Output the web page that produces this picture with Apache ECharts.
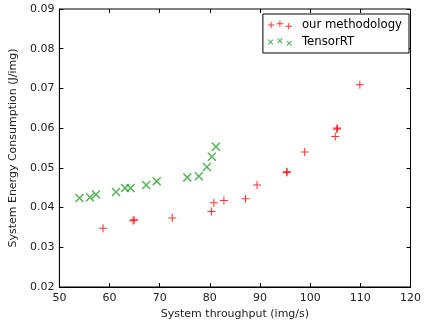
<!DOCTYPE html>
<html>
<head>
<meta charset="utf-8">
<script src="https://cdn.jsdelivr.net/npm/echarts@6/dist/echarts.min.js"></script>
<style>
  html, body { margin: 0; padding: 0; background: #fff; }
  #chart { width: 424px; height: 325px; }
</style>
</head>
<body>
<div id="chart"></div>
<script>
// data
const oursX = [58.7, 64.7, 64.9, 72.5, 80.3, 80.8, 82.8, 87.1, 89.4, 95.3, 95.4, 98.9, 105.0, 105.3, 105.4, 109.9];
const oursY = [0.0348, 0.0367, 0.0369, 0.0374, 0.0390, 0.0412, 0.0418, 0.0422, 0.0457, 0.0488, 0.0490, 0.0540, 0.0579, 0.0597, 0.0600, 0.0709];
const trtX = [54.0, 56.1, 57.3, 61.3, 63.1, 64.2, 67.3, 69.4, 75.5, 77.8, 79.4, 80.4, 81.2];
const trtY = [0.0424, 0.0426, 0.0433, 0.0439, 0.0449, 0.0449, 0.0457, 0.0466, 0.0476, 0.0479, 0.0502, 0.0528, 0.0553];
const xTicks = [50, 60, 70, 80, 90, 100, 110, 120];
const yTicks = [0.02, 0.03, 0.04, 0.05, 0.06, 0.07, 0.08, 0.09];

// filled plus shape, optionally rotated
function crossPath(cx, cy, s, t, rot) {
  const a = s / 2, b = t / 2;
  const pts = [[-b,-a],[b,-a],[b,-b],[a,-b],[a,b],[b,b],[b,a],[-b,a],[-b,b],[-a,b],[-a,-b],[-b,-b]];
  const c = Math.cos(rot), sn = Math.sin(rot);
  return pts.map((p, i) => {
    const x = cx + p[0] * c - p[1] * sn, y = cy + p[0] * sn + p[1] * c;
    return (i ? 'L' : 'M') + x.toFixed(2) + ',' + y.toFixed(2);
  }).join('') + 'Z';
}
const plusSym = 'path://' + crossPath(5, 5, 10, 1.3, 0);
const xSym = 'path://' + crossPath(5, 5, 10, 1.3, Math.PI / 4);
const legendOffsets = [[4, 5], [15, 3.5], [26, 6.5]];
const plusIcon = 'path://' + legendOffsets.map(o => crossPath(o[0], o[1], 8, 1.2, 0)).join('');
const xIcon = 'path://' + legendOffsets.map(o => crossPath(o[0], o[1], 8, 1.2, Math.PI / 4)).join('');

const font = 'DejaVu Sans';
const chart = echarts.init(document.getElementById('chart'));
const tickStyle = { show: true, inside: true, length: 4, lineStyle: { color: '#000', width: 1 } };
chart.setOption({
  animation: false,
  textStyle: { fontFamily: font },
  grid: { left: 48, right: 11, top: 9, bottom: 34, show: true, borderColor: '#000', borderWidth: 1 },
  legend: {
    right: 15, top: 14,
    orient: 'vertical',
    backgroundColor: '#fff',
    borderColor: '#000', borderWidth: 1,
    padding: [4, 7, 4, 5],
    itemGap: 3,
    itemWidth: 24, itemHeight: 9,
    textStyle: { fontFamily: font, fontSize: 11.7, lineHeight: 14, color: '#000', padding: [0, 0, 0, 5] },
    data: [
      { name: 'our methodology', icon: plusIcon },
      { name: 'TensorRT', icon: xIcon }
    ]
  },
  xAxis: [{
    type: 'value', min: 50, max: 120, interval: 10,
    name: 'System throughput (img/s)', nameLocation: 'middle', nameGap: 22,
    nameTextStyle: { fontSize: 11, color: '#222' },
    axisLine: { show: true, lineStyle: { color: '#000' } },
    axisTick: tickStyle,
    axisLabel: { fontSize: 11, color: '#222', margin: 6, formatter: v => xTicks.includes(v) ? String(v) : '' },
    splitLine: { show: false }
  }, {
    type: 'value', position: 'top', min: 50, max: 120, interval: 10,
    axisLine: { show: false }, axisTick: tickStyle,
    axisLabel: { show: false }, splitLine: { show: false }
  }],
  yAxis: [{
    type: 'value', min: 0.02, max: 0.09, interval: 0.01,
    name: 'System Energy Consumption (J/img)', nameLocation: 'middle', nameGap: 37,
    nameTextStyle: { fontSize: 11, color: '#222' },
    axisLine: { show: true, lineStyle: { color: '#000' } },
    axisTick: tickStyle,
    axisLabel: { fontSize: 11, color: '#222', margin: 5, formatter: v => v.toFixed(2) },
    splitLine: { show: false }
  }, {
    type: 'value', position: 'right', min: 0.02, max: 0.09, interval: 0.01,
    axisLine: { show: false }, axisTick: tickStyle,
    axisLabel: { show: false }, splitLine: { show: false }
  }],
  series: [{
    name: 'our methodology', type: 'scatter',
    symbol: plusSym, symbolSize: 8,
    itemStyle: { color: '#ff0000' },
    data: oursX.map((x, i) => [x, oursY[i]])
  }, {
    name: 'TensorRT', type: 'scatter',
    symbol: xSym, symbolSize: 9,
    itemStyle: { color: '#2ca02c' },
    data: trtX.map((x, i) => [x, trtY[i]])
  }]
});
</script>
</body>
</html>
